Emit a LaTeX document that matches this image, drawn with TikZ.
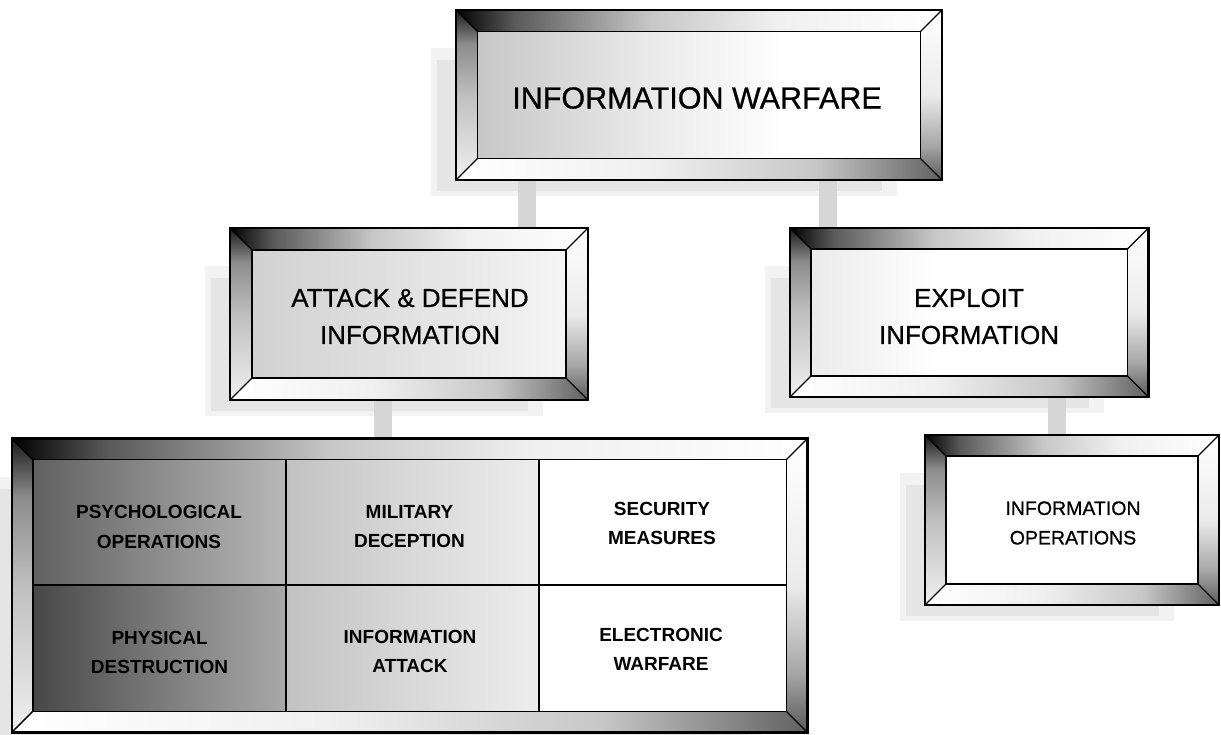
\documentclass[tikz,border=0pt]{standalone}
\usepackage{fontspec}
\setmainfont{Liberation Sans}
\newfontfamily\medfont{Liberation Sans}[FakeBold=0.7]
\usetikzlibrary{calc}

\pgfdeclarehorizontalshading{topbev}{100bp}{color(0bp)=(black); color(25bp)=(black); color(31bp)=(black!65); color(45bp)=(black!22); color(58bp)=(black!6); color(75bp)=(white); color(100bp)=(white)}
\pgfdeclareverticalshading{leftbev}{100bp}{color(0bp)=(black!6); color(25bp)=(black!6); color(50bp)=(black!25); color(65bp)=(black!45); color(75bp)=(black!90); color(100bp)=(black!90)}
\pgfdeclareverticalshading{rightbev}{100bp}{color(0bp)=(black!65); color(25bp)=(black!65); color(35bp)=(black!35); color(50bp)=(black!8); color(75bp)=(white); color(100bp)=(white)}
\pgfdeclarehorizontalshading{botbev}{100bp}{color(0bp)=(white); color(25bp)=(white); color(45bp)=(black!6); color(62bp)=(black!22); color(75bp)=(black!62); color(100bp)=(black!62)}
\pgfdeclarehorizontalshading{faceA}{100bp}{color(0bp)=(black!22); color(25bp)=(black!22); color(45bp)=(black!8); color(60bp)=(white); color(100bp)=(white)}
\pgfdeclarehorizontalshading{faceB}{100bp}{color(0bp)=(black!18); color(25bp)=(black!18); color(55bp)=(black!10); color(75bp)=(black!4); color(100bp)=(black!4)}
\pgfdeclarehorizontalshading{faceC}{100bp}{color(0bp)=(black!8); color(25bp)=(black!8); color(45bp)=(white); color(100bp)=(white)}
\pgfdeclarehorizontalshading{cellDark}{100bp}{color(0bp)=(black!62); color(25bp)=(black!62); color(50bp)=(black!45); color(75bp)=(black!28); color(100bp)=(black!28)}
\pgfdeclarehorizontalshading{cellDarker}{100bp}{color(0bp)=(black!72); color(25bp)=(black!72); color(50bp)=(black!52); color(75bp)=(black!34); color(100bp)=(black!34)}
\pgfdeclarehorizontalshading{cellMid}{100bp}{color(0bp)=(black!24); color(25bp)=(black!24); color(50bp)=(black!15); color(75bp)=(black!7); color(100bp)=(black!7)}

\tikzset{
  framebox/.style={rectangle, inner sep=0pt, outer sep=0pt},
  title/.style={align=center, font=\medfont\fontsize{26}{37}\selectfont},
  bigtitle/.style={align=center, font=\medfont\fontsize{30.5}{36}\selectfont},
  small/.style={align=center, font=\medfont\fontsize{19.5}{29.5}\selectfont},
  cell/.style={align=center, font=\bfseries\fontsize{19}{29.5}\selectfont},
  conn/.style={draw=black!16, line width=18pt},
  halo/.style={fill=black!10},
  halosoft/.style={fill=black!5},
  outerline/.style={line width=2.4pt},
  innerline/.style={line width=1.7pt},
  diagline/.style={line width=1.3pt},
  divline/.style={line width=1.4pt},
}

% #1 node name
\newcommand\framehalo[1]{%
  \path[halosoft] ($(#1.north west)+(-25,38)$) rectangle ($(#1.south east)+(-45,16)$);
  \path[halo] ($(#1.north west)+(-19,50)$) rectangle ($(#1.south east)+(-60,11)$);
}
% #1 node name, #2 bevel width, #3 face options
\newcommand\bevelframe[3]{%
  \coordinate (#1-a) at (#1.north west);
  \coordinate (#1-b) at (#1.north east);
  \coordinate (#1-c) at (#1.south east);
  \coordinate (#1-d) at (#1.south west);
  \coordinate (#1-ia) at ($(#1.north west)+(#2,#2)$);
  \coordinate (#1-ib) at ($(#1.north east)+(-#2,#2)$);
  \coordinate (#1-ic) at ($(#1.south east)+(-#2,-#2)$);
  \coordinate (#1-id) at ($(#1.south west)+(#2,-#2)$);
  \shade[shading=topbev] (#1-a) -- (#1-b) -- (#1-ib) -- (#1-ia) -- cycle;
  \shade[shading=leftbev] (#1-a) -- (#1-ia) -- (#1-id) -- (#1-d) -- cycle;
  \shade[shading=rightbev] (#1-b) -- (#1-c) -- (#1-ic) -- (#1-ib) -- cycle;
  \shade[shading=botbev] (#1-d) -- (#1-id) -- (#1-ic) -- (#1-c) -- cycle;
  \path[#3] (#1-ia) rectangle (#1-ic);
  \draw[diagline] (#1-a) -- (#1-ia) (#1-b) -- (#1-ib) (#1-c) -- (#1-ic) (#1-d) -- (#1-id);
  \draw[innerline] (#1-ia) rectangle (#1-ic);
  \draw[outerline] (#1-a) rectangle (#1-c);
}

\begin{document}
\begin{tikzpicture}[x=1pt, y=-1pt]
\useasboundingbox (0,0) rectangle (1221,734);
\clip (0,0) rectangle (1221,734);

% frame placeholders (outer bounds)
\node[framebox, minimum width=486, minimum height=170] (iw) at (699,95) {};
\node[framebox, minimum width=358, minimum height=172] (atk) at (409,314) {};
\node[framebox, minimum width=358.5, minimum height=169] (exp) at (969.3,312.5) {};
\node[framebox, minimum width=294, minimum height=170] (iop) at (1072,520) {};
\node[framebox, minimum width=795.8, minimum height=293.9] (big) at (409.6,585.5) {};

% soft shadows
\framehalo{iw}
\framehalo{atk}
\framehalo{exp}
\framehalo{iop}
\framehalo{big}

% connectors
\coordinate (s1) at (527,0);
\coordinate (s2) at (828,0);
\coordinate (s3) at (383,0);
\coordinate (s4) at (1057,0);
\draw[conn] (s1 |- iw.south) -- (s1 |- atk.north);
\draw[conn] (s2 |- iw.south) -- (s2 |- exp.north);
\draw[conn] (s3 |- atk.south) -- (s3 |- big.north);
\draw[conn] (s4 |- exp.south) -- (s4 |- iop.north);

% frames
\bevelframe{iw}{21.5}{shade, shading=faceA}
\bevelframe{atk}{22}{shade, shading=faceB}
\bevelframe{exp}{21}{shade, shading=faceC}
\bevelframe{iop}{21}{fill=white}
\bevelframe{big}{21}{fill=white}

% grid cells of the big frame
\coordinate (g1) at (286,585);
\coordinate (g2) at (539,585);
\shade[shading=cellDark] (big-ia) rectangle (g1);
\shade[shading=cellDarker] (big-ia |- g1) rectangle (g1 |- big-ic);
\shade[shading=cellMid] (g1 |- big-ia) rectangle (g2);
\shade[shading=cellMid] (g1) rectangle (g2 |- big-ic);
\draw[divline] (g1 |- big-ia) -- (g1 |- big-ic);
\draw[divline] (g2 |- big-ia) -- (g2 |- big-ic);
\draw[divline] (big-ia |- g1) -- (big-ic |- g1);
\draw[innerline] (big-ia) rectangle (big-ic);

% texts
\node[bigtitle] (tiw) at (697,98) {INFORMATION WARFARE};
\node[title] (tatk) at (410,316.5) {ATTACK \& DEFEND\\INFORMATION};
\node[title] (texp) at (969,316.5) {EXPLOIT\\INFORMATION};
\node[small] (tiop) at (1073,523) {INFORMATION\\OPERATIONS};
\node[cell] (c11) at (159,527) {PSYCHOLOGICAL\\OPERATIONS};
\node[cell] (c12) at (409.5,526.5) {MILITARY\\DECEPTION};
\node[cell] (c13) at (662,523.5) {SECURITY\\MEASURES};
\node[cell] (c21) at (159.6,652.5) {PHYSICAL\\DESTRUCTION};
\node[cell] (c22) at (410,651.5) {INFORMATION\\ATTACK};
\node[cell] (c23) at (661,649.5) {ELECTRONIC\\WARFARE};
\end{tikzpicture}
\end{document}
